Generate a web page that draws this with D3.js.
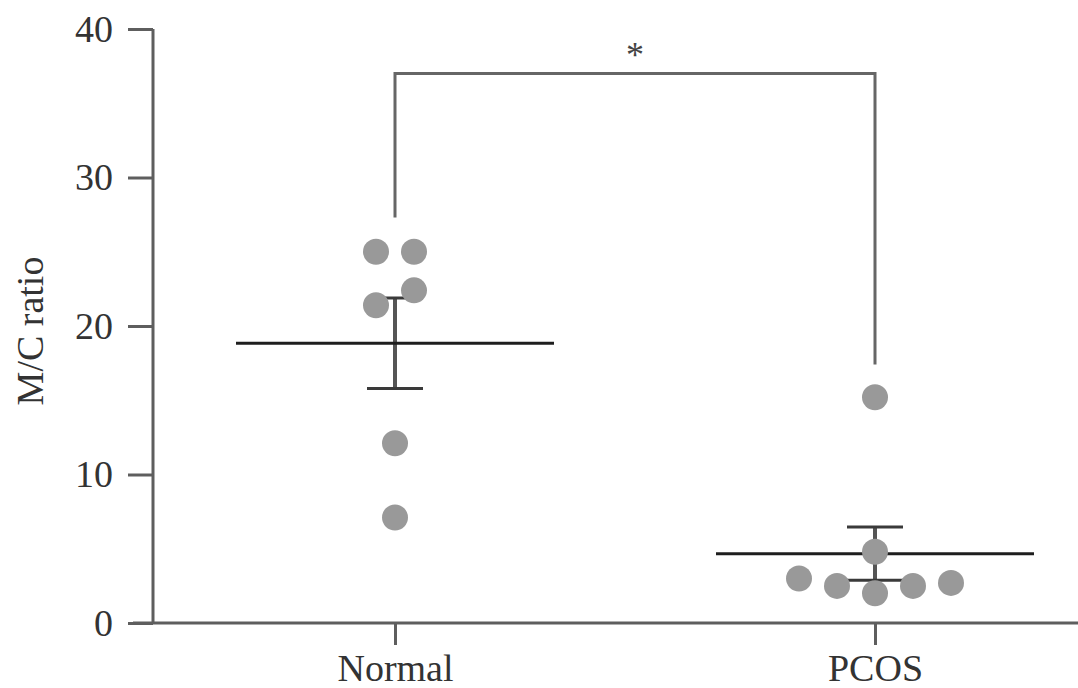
<!DOCTYPE html>
<html>
<head>
<meta charset="utf-8">
<script src="https://cdn.jsdelivr.net/npm/d3@7.9.0/dist/d3.min.js"></script>
<style>
  body { margin: 0; background: #fff; }
  svg { display: block; font-family: "Liberation Serif", "Times New Roman", serif; }
</style>
</head>
<body>
<svg id="chart" width="1078" height="688"></svg>
<script>
// data
const groups = ["Normal", "PCOS"];
const normalValues = [25.0, 25.0, 21.4, 22.4, 12.1, 7.1];
const normalSlots = [-1, 1, -1, 1, 0, 0];      // column scatter slot per point
const pcosValues = [15.2, 3.0, 2.5, 2.0, 2.5, 2.7, 4.8];
const pcosSlots = [0, -4, -2, 0, 2, 4, 0];
const yTicks = [0, 10, 20, 30, 40];
const bracketTop = 37;
const bracketEnds = [27.3, 17.4];
const yLabel = "M/C ratio";

const svg = d3.select("#chart");
const axisX = 153, baseY = 623;

const y = d3.scaleLinear().domain([0, 40]).range([baseY, 29]);
const x = d3.scalePoint().domain(groups).range([395, 875]);

const axisColor = "#5e5e5e";

// y axis
const yAxis = svg.append("g")
    .attr("transform", `translate(${axisX},0)`)
    .call(d3.axisLeft(y).tickValues(yTicks).tickSize(25).tickPadding(15).tickFormat(d3.format("d")));
yAxis.select(".domain").attr("d", `M0,${y(40)}V${baseY}`).attr("stroke", axisColor).attr("stroke-width", 3);
yAxis.selectAll(".tick line").attr("stroke", axisColor).attr("stroke-width", 3);
yAxis.selectAll(".tick text")
    .attr("font-size", 38).attr("fill", "#333")
    .attr("font-family", "Liberation Serif, serif");

// x axis
const xAxis = svg.append("g")
    .attr("transform", `translate(0,${baseY})`)
    .call(d3.axisBottom(x).tickSize(22).tickPadding(9));
xAxis.select(".domain").attr("d", `M${axisX - 20},0H1078`).attr("stroke", axisColor).attr("stroke-width", 3);
xAxis.selectAll(".tick line").attr("stroke", axisColor).attr("stroke-width", 3);
xAxis.selectAll(".tick text")
    .attr("font-size", 38).attr("fill", "#333")
    .attr("font-family", "Liberation Serif, serif");

// y label
svg.append("text")
    .attr("transform", `translate(43,331) rotate(-90)`)
    .attr("text-anchor", "middle")
    .attr("font-size", 38)
    .attr("fill", "#333")
    .text(yLabel);

// significance bracket
const bx0 = x("Normal"), bx1 = x("PCOS");
svg.append("path")
    .attr("d", `M${bx0},${y(bracketEnds[0])}V${y(bracketTop)}H${bx1}V${y(bracketEnds[1])}`)
    .attr("fill", "none")
    .attr("stroke", "#666")
    .attr("stroke-width", 3);
svg.append("text")
    .attr("x", (bx0 + bx1) / 2)
    .attr("y", 67)
    .attr("text-anchor", "middle")
    .attr("font-size", 36)
    .attr("fill", "#444")
    .text("*");

// mean + SEM per group
const series = [
    { name: "Normal", values: normalValues, slots: normalSlots },
    { name: "PCOS", values: pcosValues, slots: pcosSlots }
];

series.forEach(s => {
    const cx = x(s.name);
    const m = d3.mean(s.values);
    const sem = d3.deviation(s.values) / Math.sqrt(s.values.length);
    const g = svg.append("g");

    g.append("line")
        .attr("x1", cx).attr("x2", cx)
        .attr("y1", y(m + sem)).attr("y2", y(m - sem))
        .attr("stroke", "#555").attr("stroke-width", 4);
    [m + sem, m - sem].forEach(v => {
        g.append("line")
            .attr("x1", cx - 28).attr("x2", cx + 28)
            .attr("y1", y(v)).attr("y2", y(v))
            .attr("stroke", "#3a3a3a").attr("stroke-width", 3);
    });
    g.append("line")
        .attr("x1", cx - 159).attr("x2", cx + 159)
        .attr("y1", y(m)).attr("y2", y(m))
        .attr("stroke", "#1e1e1e").attr("stroke-width", 3);

    // points on top
    g.selectAll("circle")
        .data(s.values)
        .enter()
        .append("circle")
        .attr("cx", (d, i) => cx + s.slots[i] * 19)
        .attr("cy", d => y(d))
        .attr("r", 13)
        .attr("fill", "#999");
});
</script>
</body>
</html>
